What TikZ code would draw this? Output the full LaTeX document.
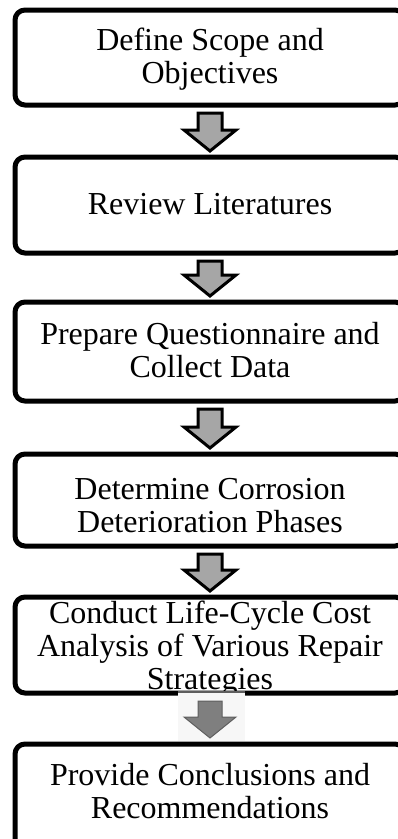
\documentclass[tikz,border=0pt]{standalone}
\usepackage{fontspec}
\setmainfont{Liberation Serif}
\usetikzlibrary{calc}
\definecolor{arrowgray}{HTML}{A6A6A6}
\definecolor{lastfill}{HTML}{7F7F7F}
\definecolor{lastedge}{HTML}{5E5E5E}
\definecolor{pastebg}{HTML}{F7F7F7}
\tikzset{
  stepbox/.style={draw=black, line width=5pt, rounded corners=10pt, minimum width=390pt, inner sep=0pt, outer sep=0pt},
  txt/.style={font=\fontsize{32}{33}\selectfont, align=center, inner sep=0pt},
  garrow/.style={draw=black, line width=3pt, fill=arrowgray, line join=miter},
  lastarrow/.style={draw=lastedge, line width=1pt, fill=lastfill, line join=miter},
}
\newcommand\flowarrow[3][garrow]{%
  \draw[#1] ($(#2.south)+(-12,8)$) -- ($(#2.south)+(12,8)$) -- ($(#3.north)+(12,-27)$)
    -- ($(#3.north)+(26,-27)$) -- ($(#3.north)+(0,-6)$) -- ($(#3.north)+(-26,-27)$)
    -- ($(#3.north)+(-12,-27)$) -- cycle;}
\begin{document}
\begin{tikzpicture}[x=1pt, y=-1pt]
\useasboundingbox (0,0) rectangle (397,839);
\node[stepbox, minimum height=95pt] (b1) at (210,57.5) {};
\node[stepbox, minimum height=96pt] (b2) at (210,205) {};
\node[stepbox, minimum height=99pt] (b3) at (210,351.5) {};
\node[stepbox, minimum height=92pt] (b4) at (210,500) {};
\node[stepbox, minimum height=96pt] (b5) at (210,645) {};
\node[stepbox, minimum height=116pt] (b6) at (210,802) {};

\node[txt] (t1) at (210,59) {Define Scope and\\Objectives};
\node[txt] (t2) at (210,204) {Review Literatures};
\node[txt] (t3) at (210,350.5) {Prepare Questionnaire and\\Collect Data};
\node[txt] (t4) at (210,506) {Determine Corrosion\\Deterioration Phases};
\node[txt] (t5) at (210,649) {Conduct Life-Cycle Cost\\Analysis of Various Repair\\Strategies};
\node[txt] (t6) at (210,791) {Provide Conclusions and\\Recommendations};

\flowarrow{b1}{b2}
\flowarrow{b2}{b3}
\flowarrow{b3}{b4}
\flowarrow{b4}{b5}

\fill[pastebg] (178,691) rectangle (245,741);
\draw[lastedge, line width=1.5pt] (178,692) -- (245,692);
\flowarrow[lastarrow]{b5}{b6}
\end{tikzpicture}
\end{document}
